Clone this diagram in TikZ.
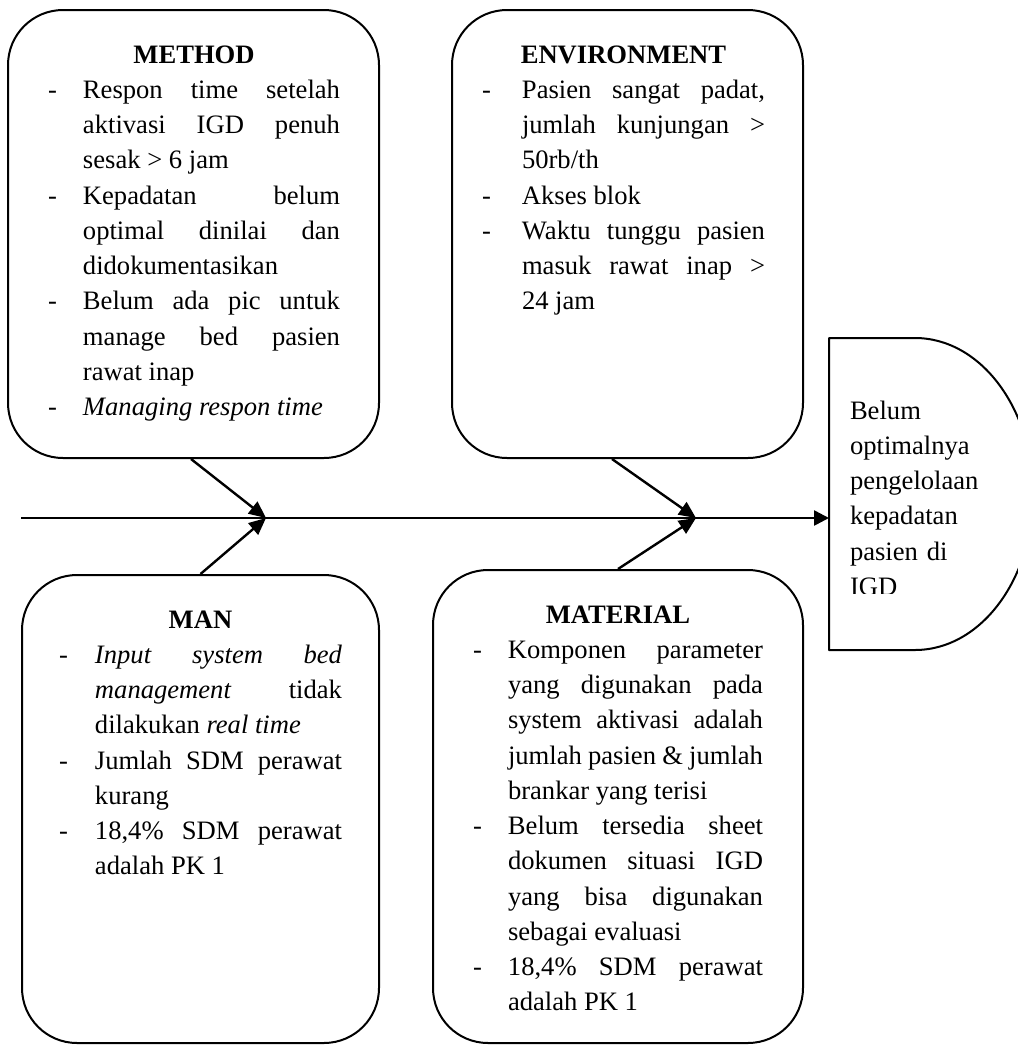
\documentclass[tikz,border=0pt]{standalone}
\usepackage{fontspec}
\setmainfont{Liberation Serif}
\usetikzlibrary{arrows.meta}
\newlength\hangw
\newcommand\resetsp{\spaceskip=0pt\relax\xspaceskip=0pt\relax}
\newcommand\ttl[1]{\makebox[\linewidth]{\bfseries #1}\par}
\newcommand\itmJ[1]{\makebox[\hangw][l]{-}\makebox[\dimexpr\linewidth-\hangw\relax][s]{#1}\par}
\newcommand\itmL[1]{\makebox[\hangw][l]{-}#1\par}
\newcommand\cntJ[1]{\hspace*{\hangw}\makebox[\dimexpr\linewidth-\hangw\relax][s]{#1}\par}
\newcommand\cntL[1]{\hspace*{\hangw}#1\par}
\tikzset{
  fishbox/.style={draw, line width=2pt, rounded corners=55pt, rectangle, inner sep=0pt},
  txt/.style={inner sep=0pt, outer sep=0pt, anchor=base west,
    font=\fontsize{26.6}{35.25}\selectfont},
  bone/.style={line width=2.4pt, -{Triangle[length=17pt,width=15pt]}},
  spine/.style={line width=2.6pt, -{Triangle[length=15pt,width=15pt]}},
  headshape/.style={draw, line width=2pt, line join=round}
}
\begin{document}
\begin{tikzpicture}[x=1pt, y=-1pt]
\useasboundingbox (0,0) rectangle (1018,1045);

% boxes
\node[fishbox, minimum width=371pt, minimum height=448pt] (mbox) at (193.5,234) {};
\node[fishbox, minimum width=351pt, minimum height=448pt] (ebox) at (627.5,234) {};
\node[fishbox, minimum width=357pt, minimum height=468pt] (manbox) at (200.5,809) {};
\node[fishbox, minimum width=370pt, minimum height=473pt] (matbox) at (618,806.5) {};

% head
\draw[headshape] (829,338) -- (915,338)
  arc[start angle=-90, end angle=90, x radius=118, y radius=156]
  -- (829,650) -- cycle;
\coordinate (hin) at (829,518);
\begin{scope}
  \clip (829,338) rectangle (1018,593);
  \node[txt, text width=165pt] (htxt) at (850,419)
    {\raggedright Belum\par optimalnya\par pengelolaan\par kepadatan\par pasien di\par IGD\par};
\end{scope}

% texts
\node[txt, text width=292pt] (mtxt) at (48,63) {\resetsp\setlength\hangw{35pt}%
\ttl{METHOD}
\itmJ{Respon time setelah}
\cntJ{aktivasi IGD penuh}
\cntL{sesak > 6 jam}
\itmJ{Kepadatan belum}
\cntJ{optimal dinilai dan}
\cntL{didokumentasikan}
\itmJ{Belum ada pic untuk}
\cntJ{manage bed pasien}
\cntL{rawat inap}
\itmL{\textit{Managing respon time}}};

\node[txt, text width=283pt] (etxt) at (482,63) {\resetsp\setlength\hangw{40pt}%
\ttl{ENVIRONMENT}
\itmJ{Pasien sangat padat,}
\cntJ{jumlah kunjungan >}
\cntL{50rb/th}
\itmL{Akses blok}
\itmJ{Waktu tunggu pasien}
\cntJ{masuk rawat inap >}
\cntL{24 jam}};

\node[txt, text width=283pt] (mantxt) at (59,628) {\resetsp\setlength\hangw{36pt}%
\ttl{MAN}
\itmJ{\textit{Input} \textit{system} \textit{bed}}
\cntJ{\textit{management} tidak}
\cntL{dilakukan \textit{real time}}
\itmJ{Jumlah SDM perawat}
\cntL{kurang}
\itmJ{18,4\% SDM perawat}
\cntL{adalah PK 1}};

\node[txt, text width=290pt] (mattxt) at (473,623) {\resetsp\setlength\hangw{35pt}%
\ttl{MATERIAL}
\itmJ{Komponen parameter}
\cntJ{yang digunakan pada}
\cntJ{system aktivasi adalah}
\cntJ{jumlah pasien \& jumlah}
\cntL{brankar yang terisi}
\itmJ{Belum tersedia sheet}
\cntJ{dokumen situasi IGD}
\cntJ{yang bisa digunakan}
\cntL{sebagai evaluasi}
\itmJ{18,4\% SDM perawat}
\cntL{adalah PK 1}};

% spine and bones
\coordinate (s0) at (21,518);
\coordinate (j1) at (266,518);
\coordinate (j2) at (696,518);
\draw[spine] (s0) -- (hin);
\draw[bone] ([xshift=-2.5pt]mbox.south) -- (j1);
\draw[bone] (manbox.north) -- (j1);
\draw[bone] ([xshift=-15.5pt]ebox.south) -- (j2);
\draw[bone] (matbox.north) -- (j2);
\end{tikzpicture}
\end{document}
